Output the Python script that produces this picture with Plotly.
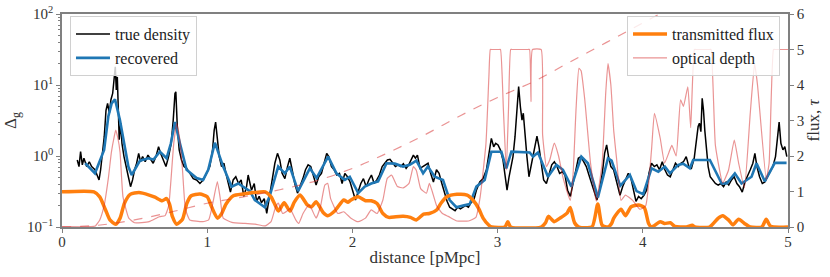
import plotly.graph_objects as go

# ---------------- data ----------------
true_x = [0.105, 0.117, 0.128, 0.14, 0.151, 0.17, 0.188, 0.204, 0.227, 0.243, 0.255, 0.266, 0.28, 0.291,
          0.303, 0.314, 0.326, 0.337, 0.349, 0.358, 0.367, 0.374, 0.381, 0.388, 0.394, 0.404, 0.413, 0.427,
          0.44, 0.457, 0.472, 0.486, 0.5, 0.514, 0.528, 0.541, 0.555, 0.573, 0.592, 0.61, 0.628, 0.647,
          0.665, 0.679, 0.697, 0.716, 0.734, 0.752, 0.766, 0.778, 0.784, 0.794, 0.807, 0.823, 0.84, 0.858,
          0.881, 0.904, 0.927, 0.95, 0.973, 0.996, 1.018, 1.037, 1.048, 1.058, 1.069, 1.083, 1.099, 1.115,
          1.129, 1.145, 1.16, 1.179, 1.197, 1.216, 1.234, 1.252, 1.271, 1.282, 1.305, 1.324, 1.34, 1.358,
          1.374, 1.393, 1.41, 1.425, 1.443, 1.466, 1.484, 1.5, 1.516, 1.535, 1.553, 1.569, 1.585, 1.603,
          1.622, 1.64, 1.659, 1.677, 1.695, 1.713, 1.732, 1.75, 1.768, 1.787, 1.805, 1.823, 1.837, 1.856,
          1.874, 1.892, 1.911, 1.929, 1.948, 1.966, 1.984, 2.003, 2.021, 2.039, 2.058, 2.076, 2.095, 2.113,
          2.131, 2.15, 2.168, 2.186, 2.205, 2.223, 2.241, 2.259, 2.278, 2.296, 2.315, 2.333, 2.351, 2.37,
          2.388, 2.406, 2.42, 2.434, 2.448, 2.466, 2.485, 2.503, 2.521, 2.539, 2.558, 2.579, 2.597, 2.616,
          2.634, 2.652, 2.67, 2.689, 2.707, 2.725, 2.744, 2.762, 2.78, 2.799, 2.817, 2.836, 2.854, 2.877,
          2.9, 2.923, 2.941, 2.957, 2.973, 2.987, 3.003, 3.019, 3.037, 3.051, 3.065, 3.079, 3.092, 3.106,
          3.12, 3.134, 3.145, 3.157, 3.168, 3.177, 3.189, 3.202, 3.216, 3.23, 3.244, 3.257, 3.271, 3.285,
          3.301, 3.317, 3.336, 3.354, 3.373, 3.391, 3.409, 3.427, 3.446, 3.464, 3.482, 3.501, 3.519, 3.537,
          3.556, 3.574, 3.592, 3.611, 3.629, 3.647, 3.666, 3.684, 3.702, 3.721, 3.737, 3.751, 3.764, 3.78,
          3.799, 3.817, 3.831, 3.843, 3.861, 3.882, 3.9, 3.916, 3.934, 3.953, 3.971, 3.989, 4.008, 4.026,
          4.042, 4.06, 4.079, 4.097, 4.115, 4.134, 4.152, 4.17, 4.189, 4.207, 4.225, 4.244, 4.262, 4.28,
          4.299, 4.317, 4.335, 4.354, 4.367, 4.381, 4.39, 4.4, 4.409, 4.418, 4.427, 4.439, 4.45, 4.464,
          4.482, 4.5, 4.519, 4.537, 4.556, 4.574, 4.592, 4.611, 4.629, 4.648, 4.666, 4.685, 4.703, 4.721,
          4.74, 4.758, 4.772, 4.786, 4.804, 4.823, 4.841, 4.859, 4.878, 4.896, 4.914, 4.928, 4.939, 4.951,
          4.965, 4.978, 4.992]
true_delta = [0.88, 0.71, 1.15, 0.75, 0.93, 0.71, 0.83, 0.71, 0.64, 0.51, 0.46, 0.64, 1.22, 1.87,
              4.4, 5.5, 4.0, 6.2, 7.6, 13.0, 18.0, 8.5, 13.0, 4.4, 1.7, 2.9, 1.5, 0.98,
              0.71, 0.51, 0.37, 0.46, 0.64, 0.79, 1.09, 0.83, 0.98, 0.83, 1.03, 0.88, 0.79, 0.98,
              1.35, 1.09, 0.88, 0.71, 0.98, 1.51, 3.2, 7.6, 8.0, 2.6, 1.22, 0.88, 0.71, 0.67,
              0.57, 0.48, 0.46, 0.41, 0.46, 0.57, 0.71, 1.22, 2.3, 3.0, 1.7, 0.98, 0.71, 0.79,
              0.57, 0.41, 0.31, 0.46, 0.51, 0.41, 0.46, 0.27, 0.37, 0.54, 0.33, 0.41, 0.23, 0.27,
              0.22, 0.25, 0.156, 0.24, 0.41, 0.79, 1.09, 0.88, 0.57, 0.48, 0.71, 0.93, 0.64, 0.41,
              0.30, 0.37, 0.48, 0.64, 0.75, 0.71, 0.54, 0.39, 0.51, 0.57, 0.79, 1.09, 0.98, 0.71,
              0.64, 0.54, 0.57, 0.41, 0.57, 0.51, 0.43, 0.33, 0.24, 0.31, 0.41, 0.48, 0.37, 0.46,
              0.54, 0.41, 0.46, 0.54, 0.71, 0.79, 0.88, 0.90, 0.79, 0.71, 0.75, 0.71, 0.78, 0.67,
              0.75, 0.93, 1.03, 0.93, 1.03, 0.67, 0.71, 0.75, 0.79, 0.57, 0.43, 0.64, 0.57, 0.41,
              0.31, 0.23, 0.19, 0.18, 0.17, 0.19, 0.18, 0.19, 0.20, 0.19, 0.22, 0.24, 0.33, 0.43,
              0.48, 0.64, 1.09, 1.77, 1.35, 1.51, 1.43, 1.22, 0.88, 0.51, 0.33, 0.51, 0.71, 0.98,
              1.87, 4.4, 9.5, 4.9, 3.2, 4.0, 1.87, 0.98, 0.51, 0.71, 1.09, 1.51, 1.91, 1.35,
              0.71, 0.46, 0.41, 0.57, 0.75, 0.83, 0.71, 0.57, 0.60, 0.54, 0.33, 0.27, 0.41, 0.67,
              0.93, 0.98, 0.83, 0.71, 0.54, 0.41, 0.31, 0.24, 0.33, 0.57, 1.09, 1.43, 0.98, 0.71,
              0.64, 0.46, 0.33, 0.28, 0.37, 0.46, 0.57, 0.51, 0.33, 0.23, 0.27, 0.25, 0.28, 0.33,
              0.57, 0.79, 0.71, 0.75, 0.64, 0.83, 0.64, 0.54, 0.51, 0.64, 0.79, 0.71, 0.79, 0.83,
              0.98, 0.71, 0.67, 0.93, 1.51, 2.6, 2.9, 2.2, 6.5, 4.4, 2.3, 1.09, 0.71, 0.51,
              0.46, 0.41, 0.39, 0.41, 0.37, 0.43, 0.39, 0.46, 0.51, 0.41, 0.37, 0.31, 0.43, 0.51,
              0.64, 0.79, 1.09, 0.71, 0.51, 0.41, 0.43, 0.51, 0.60, 0.71, 0.98, 1.7, 3.0, 1.51,
              1.22, 1.35, 0.98]

rec_x = [0.16, 0.227, 0.29, 0.319, 0.342, 0.365, 0.399, 0.433, 0.457, 0.48, 0.537, 0.594, 0.63, 0.674,
         0.72, 0.75, 0.778, 0.812, 0.858, 0.927, 0.972, 1.007, 1.053, 1.11, 1.168, 1.214, 1.294, 1.328,
         1.397, 1.43, 1.489, 1.535, 1.569, 1.626, 1.707, 1.753, 1.833, 1.89, 1.948, 1.982, 2.04, 2.085,
         2.13, 2.177, 2.235, 2.292, 2.349, 2.395, 2.441, 2.487, 2.52, 2.567, 2.624, 2.67, 2.716, 2.762,
         2.808, 2.854, 2.911, 2.957, 3.026, 3.06, 3.095, 3.221, 3.244, 3.278, 3.347, 3.405, 3.45, 3.508,
         3.577, 3.622, 3.691, 3.76, 3.785, 3.845, 3.911, 3.957, 4.003, 4.06, 4.107, 4.152, 4.187, 4.244,
         4.278, 4.324, 4.347, 4.462, 4.543, 4.577, 4.634, 4.68, 4.749, 4.783, 4.84, 4.909, 4.99]
rec_delta = [0.79, 0.57, 1.22, 3.6, 5.5, 6.3, 3.2, 1.22, 0.71, 0.54, 0.86, 0.93, 0.89, 1.15,
             0.93, 1.51, 3.0, 1.51, 0.64, 0.49, 0.46, 0.64, 1.54, 0.71, 0.37, 0.41, 0.32, 0.24,
             0.19, 0.27, 0.71, 0.57, 0.71, 0.32, 0.67, 0.49, 0.98, 0.57, 0.46, 0.51, 0.30, 0.37,
             0.41, 0.44, 0.79, 0.78, 0.71, 0.75, 0.86, 0.57, 0.71, 0.51, 0.46, 0.24, 0.19, 0.20,
             0.21, 0.37, 0.46, 1.15, 1.15, 0.67, 1.15, 1.12, 0.98, 1.12, 0.51, 0.75, 0.64, 0.37,
             0.98, 0.79, 0.26, 0.93, 0.86, 0.38, 0.54, 0.32, 0.29, 0.67, 0.60, 0.71, 0.57, 0.75,
             0.78, 0.67, 0.88, 0.88, 0.41, 0.41, 0.57, 0.41, 0.51, 0.79, 0.44, 0.80, 0.80]

flux_x = [0.0, 0.22, 0.26, 0.30, 0.33, 0.37, 0.40, 0.43, 0.47, 0.53, 0.60, 0.64, 0.69, 0.72, 0.74,
          0.76, 0.79, 0.83, 0.86, 0.89, 0.95, 1.0, 1.03, 1.07, 1.10, 1.13, 1.18, 1.25, 1.32, 1.40,
          1.44, 1.47, 1.49, 1.53, 1.57, 1.60, 1.64, 1.69, 1.72, 1.75, 1.80, 1.83, 1.88, 1.94, 1.97,
          1.99, 2.04, 2.09, 2.13, 2.17, 2.21, 2.25, 2.30, 2.35, 2.40, 2.44, 2.49, 2.53, 2.58, 2.61,
          2.65, 2.72, 2.79, 2.83, 2.87, 2.90, 2.94, 2.96, 3.05, 3.07, 3.09, 3.30, 3.33, 3.35, 3.39,
          3.43, 3.48, 3.50, 3.53, 3.56, 3.65, 3.69, 3.72, 3.76, 3.785, 3.80, 3.85, 3.88, 3.92, 3.97,
          4.01, 4.04, 4.06, 4.12, 4.15, 4.19, 4.22, 4.30, 4.34, 4.36, 4.46, 4.52, 4.55, 4.59, 4.62,
          4.66, 4.70, 4.74, 4.82, 4.85, 4.88, 5.0]
flux_v = [0.99, 0.99, 0.85, 0.48, 0.2, 0.08, 0.25, 0.67, 0.92, 0.97, 0.9, 0.84, 0.74, 0.8, 0.65,
          0.3, 0.08, 0.22, 0.67, 0.88, 0.93, 0.85, 0.57, 0.25, 0.38, 0.65, 0.88, 0.93, 0.97, 0.99,
          0.85, 0.6, 0.45, 0.68, 0.45, 0.7, 0.9, 0.62, 0.57, 0.71, 0.4, 0.32, 0.46, 0.76, 0.7,
          0.76, 0.85, 0.74, 0.74, 0.66, 0.38, 0.27, 0.29, 0.3, 0.27, 0.2, 0.36, 0.38, 0.48, 0.67,
          0.85, 0.92, 0.9, 0.76, 0.52, 0.25, 0.05, 0.0, 0.0, 0.15, 0.0, 0.0, 0.12, 0.3, 0.15,
          0.25, 0.4, 0.55, 0.12, 0.0, 0.0, 0.65, 0.05, 0.0, 0.1, 0.25, 0.5, 0.32, 0.57, 0.62,
          0.55, 0.1, 0.0, 0.15, 0.1, 0.12, 0.02, 0.0, 0.05, 0.0, 0.0, 0.25, 0.32, 0.2, 0.06,
          0.22, 0.1, 0.0, 0.0, 0.22, 0.02, 0.0]

tau_x = [0.0, 0.2, 0.23, 0.26, 0.29, 0.32, 0.34, 0.36, 0.37, 0.385, 0.40, 0.42, 0.46, 0.5, 0.6,
         0.67, 0.71, 0.735, 0.75, 0.77, 0.79, 0.81, 0.83, 0.85, 0.88, 0.97, 1.01, 1.04, 1.07, 1.09,
         1.11, 1.17, 1.26, 1.33, 1.40, 1.44, 1.47, 1.49, 1.52, 1.55, 1.57, 1.61, 1.63, 1.66, 1.70,
         1.72, 1.75, 1.78, 1.81, 1.83, 1.85, 1.90, 1.94, 1.99, 2.04, 2.09, 2.13, 2.17, 2.21, 2.24,
         2.27, 2.31, 2.35, 2.39, 2.42, 2.44, 2.47, 2.51, 2.53, 2.55, 2.58, 2.62, 2.66, 2.72, 2.80,
         2.85, 2.88, 2.92, 2.94, 2.95, 2.96, 3.01, 3.02, 3.04, 3.06, 3.075, 3.09, 3.10, 3.21, 3.22,
         3.23, 3.24, 3.30, 3.31, 3.336, 3.36, 3.39, 3.42, 3.45, 3.50, 3.52, 3.54, 3.56, 3.575, 3.60,
         3.64, 3.68, 3.72, 3.745, 3.76, 3.78, 3.80, 3.82, 3.85, 3.88, 3.90, 3.93, 3.98, 4.02, 4.06,
         4.08, 4.12, 4.15, 4.18, 4.20, 4.23, 4.26, 4.28, 4.31, 4.33, 4.355, 4.365, 4.46, 4.47, 4.50,
         4.55, 4.59, 4.63, 4.66, 4.70, 4.74, 4.77, 4.79, 4.85, 4.87, 4.90, 4.91, 5.0]
tau_v = [0.01, 0.01, 0.03, 0.2, 0.6, 1.4, 2.1, 2.55, 2.73, 2.5, 2.1, 0.85, 0.25, 0.12, 0.15,
         0.29, 0.32, 0.6, 1.3, 2.37, 2.92, 2.5, 1.6, 0.5, 0.2, 0.15, 0.2, 0.7, 1.28, 0.8,
         0.25, 0.13, 0.1, 0.08, 0.03, 0.15, 0.55, 0.67, 0.38, 0.45, 0.52, 0.2, 0.1, 0.38, 0.62,
         0.5, 0.25, 0.57, 1.18, 1.23, 0.8, 0.38, 0.43, 0.25, 0.15, 0.25, 0.48, 0.38, 0.76, 1.37,
         1.46, 1.14, 1.1, 1.23, 1.7, 1.6, 1.08, 0.95, 1.23, 1.0, 0.6, 0.38, 0.3, 0.17, 0.17,
         0.27, 0.85, 2.36, 4.23, 5.0, 5.0, 5.0, 5.0, 3.3, 1.6, 3.3, 5.0, 5.0, 5.0, 5.0,
         3.53, 5.0, 5.0, 2.6, 1.7, 1.9, 2.36, 2.0, 1.4, 0.75, 1.5, 3.3, 4.47, 4.4, 3.6,
         1.8, 0.73, 1.8, 3.8, 4.6, 4.0, 2.7, 1.9, 0.75, 0.9, 0.85, 0.75, 0.5, 0.6, 2.17,
         3.2, 2.5, 1.8, 2.1, 2.3, 2.0, 3.58, 3.4, 3.95, 2.8, 5.0, 5.0, 5.0, 5.0, 2.3,
         1.24, 1.6, 2.45, 1.8, 1.1, 3.2, 4.6, 4.0, 1.34, 1.8, 5.0, 5.0, 5.0]

dash_x = [0.0, 0.25, 0.5, 0.75, 1.0, 1.25, 1.5, 1.75, 2.0, 2.25, 2.5, 2.75, 3.0, 3.25, 3.5,
          3.75, 4.0, 4.25]
dash_v = [0.0, 0.05, 0.2, 0.42, 0.67, 0.85, 1.05, 1.3, 1.65, 2.1, 2.6, 3.15, 3.65, 4.1, 4.65,
          5.2, 5.75, 6.3]

x_ticks = [0, 1, 2, 3, 4, 5]
y_ticks = [0.1, 1, 10, 100]
y_ticktext = ["10<sup>−1</sup>", "10<sup>0</sup>", "10<sup>1</sup>", "10<sup>2</sup>"]
y_minor = [0.2, 0.3, 0.4, 0.5, 0.6, 0.7, 0.8, 0.9, 2, 3, 4, 5, 6, 7, 8, 9,
           20, 30, 40, 50, 60, 70, 80, 90]
y2_ticks = [0, 1, 2, 3, 4, 5, 6]

# ---------------- figure ----------------
FONT = "Liberation Serif"
AX = "#808080"
PINK = "rgba(214,39,40,0.5)"

fig = go.Figure()
fig.add_trace(go.Scatter(x=true_x, y=true_delta, mode="lines", name="true density",
                         line=dict(color="black", width=1.5), legend="legend"))
fig.add_trace(go.Scatter(x=rec_x, y=rec_delta, mode="lines", name="recovered",
                         line=dict(color="#1f77b4", width=2.6), legend="legend"))
fig.add_trace(go.Scatter(x=flux_x, y=flux_v, mode="lines", name="transmitted flux", yaxis="y2",
                         line=dict(color="#ff7f0e", width=3.5, shape="spline", smoothing=0.6),
                         legend="legend2"))
fig.add_trace(go.Scatter(x=tau_x, y=tau_v, mode="lines", name="optical depth", yaxis="y2",
                         line=dict(color=PINK, width=1.2, shape="spline", smoothing=0.4),
                         legend="legend2"))
fig.add_trace(go.Scatter(x=dash_x, y=dash_v, mode="lines", yaxis="y2", showlegend=False,
                         line=dict(color=PINK, width=1.2, dash="dash", shape="spline")))

fig.update_layout(
    width=830, height=277,
    margin=dict(l=62, r=42, t=14, b=50, autoexpand=False),
    paper_bgcolor="white", plot_bgcolor="white",
    font=dict(family=FONT, size=15, color="#333"),
    xaxis=dict(range=[0, 5], tickvals=x_ticks, ticks="outside", ticklen=4, tickcolor=AX,
               showline=True, linecolor=AX, linewidth=1.5, mirror=True, showgrid=False,
               zeroline=False, automargin=False, ticklabelstandoff=-4,
               title=dict(text="distance [pMpc]", font=dict(size=17), standoff=2),
               tickfont=dict(size=15)),
    yaxis=dict(type="log", range=[-1, 2], tickvals=y_ticks, ticktext=y_ticktext,
               ticks="outside", ticklen=4, tickcolor=AX, showline=True, linecolor=AX,
               linewidth=1.5, showgrid=False, zeroline=False, automargin=False,
               minor=dict(tickvals=y_minor, ticks="outside", ticklen=2, tickcolor=AX,
                          showgrid=False),
               title=dict(text="Δ<sub>g</sub>", font=dict(size=17), standoff=6),
               tickfont=dict(size=15)),
    yaxis2=dict(overlaying="y", side="right", range=[0, 6], tickvals=y2_ticks, ticks="outside",
                ticklen=4, tickcolor=AX, showline=True, linecolor=AX, linewidth=1.5,
                showgrid=False, zeroline=False, automargin=False,
                title=dict(text="flux, <i>τ</i>", font=dict(size=17), standoff=2),
                tickfont=dict(size=15)),
    legend=dict(x=0.011, y=0.99, xanchor="left", yanchor="top", bgcolor="rgba(255,255,255,0.8)",
                bordercolor="#d0d0d0", borderwidth=1, font=dict(size=16, color="#222"),
                tracegroupgap=0, itemwidth=34),
    legend2=dict(x=0.989, y=0.99, xanchor="right", yanchor="top", bgcolor="rgba(255,255,255,0.8)",
                 bordercolor="#d0d0d0", borderwidth=1, font=dict(size=16, color="#222"),
                 tracegroupgap=0, itemwidth=34),
    showlegend=True,
)

fig.write_html("out.html", config={"displayModeBar": False},
               post_script="document.body.style.margin='0';")
